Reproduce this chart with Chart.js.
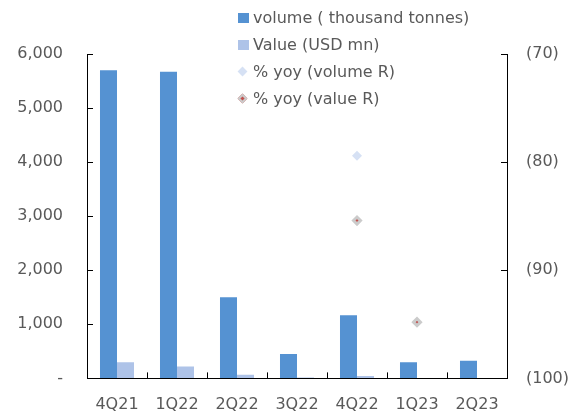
<!DOCTYPE html>
<html>
<head>
<meta charset="utf-8">
<script src="https://cdn.jsdelivr.net/npm/chart.js@4"></script>
<style>
    body { margin: 0; background: #fff; }
    #wrap { position: relative; width: 578px; height: 418px; }
    #legend {
        position: absolute; left: 238px; top: 8px;
        font: 16px "DejaVu Sans", Verdana, sans-serif; color: #595959;
    }
    .item { position: relative; height: 27px; line-height: 20px; padding-left: 15px; white-space: nowrap; }
    .box { position: absolute; left: 0; top: 5px; width: 11px; height: 10px; }
    .dia { position: absolute; transform: rotate(45deg); }
</style>
</head>
<body>
<div id="wrap">
    <canvas id="chart" width="578" height="418"></canvas>
    <div id="legend"></div>
</div>
<script>
// quarterly volume / value with % yoy on the right axis
const categories = ["4Q21", "1Q22", "2Q22", "3Q22", "4Q22", "1Q23", "2Q23"];
const volume = [5700, 5670, 1500, 450, 1170, 300, 325];          // thousand tonnes
const valueUsd = [300, 222, 66, 18, 45, 8, null];                 // USD mn
const yoyVolume = [null, null, null, null, -79.4, null, null];    // %
const yoyValue = [null, null, null, null, -85.4, -94.8, null];    // %

const leftTicks = [0, 1000, 2000, 3000, 4000, 5000, 6000];
const rightTicks = [-100, -90, -80, -70];

const seriesNames = ["volume ( thousand tonnes)", "Value (USD mn)", "% yoy (volume R)", "% yoy (value R)"];

const COL_VOL = "#5592d2";
const COL_VAL = "#aec3e8";
const COL_YOY_VOL = "#d6e1f4";
const COL_YOY_VAL = "#c0504d";
const COL_YOY_VAL_EDGE = "#cbcbcb";
const TEXT = "#595959";
const FONT = { family: "'DejaVu Sans', Verdana, sans-serif", size: 16 };

function fmtThousands(v) {
    if (v === 0) return "-";
    return v.toLocaleString("en-US");
}

function setTicks(list) {
    return function (scale) { scale.ticks = list.map(v => ({ value: v })); };
}

new Chart(document.getElementById("chart"), {
    type: "bar",
    data: {
        labels: categories,
        datasets: [
            { label: seriesNames[2], type: "line", data: yoyVolume, yAxisID: "y1", showLine: false,
              pointStyle: "rectRot", pointRadius: 5, pointBackgroundColor: COL_YOY_VOL,
              pointBorderWidth: 0, order: 0 },
            { label: seriesNames[3], type: "line", data: yoyValue, yAxisID: "y1", showLine: false,
              pointStyle: "rectRot", pointRadius: 3.5, pointBackgroundColor: COL_YOY_VAL,
              pointBorderColor: COL_YOY_VAL_EDGE, pointBorderWidth: 3, order: 0 },
            { label: seriesNames[0], data: volume, backgroundColor: COL_VOL, yAxisID: "y", order: 1 },
            { label: seriesNames[1], data: valueUsd, backgroundColor: COL_VAL, yAxisID: "y", order: 1 }
        ]
    },
    options: {
        responsive: false,
        animation: false,
        categoryPercentage: 0.567,
        barPercentage: 1,
        layout: { padding: { top: 54, left: 0, right: 0, bottom: 0 } },
        plugins: { legend: { display: false }, tooltip: { enabled: false } },
        scales: {
            x: {
                grid: { drawOnChartArea: false, offset: true, color: "#000", tickLength: -6 },
                border: { color: "#000", width: 1 },
                ticks: { color: TEXT, font: FONT, padding: 23, maxRotation: 0 },
                afterFit: s => { s.height = 39; }
            },
            y: {
                position: "left", min: 0, max: 6000,
                afterBuildTicks: setTicks(leftTicks),
                grid: { drawOnChartArea: false, color: "#000", tickLength: -6 },
                border: { color: "#000", width: 1 },
                ticks: { color: TEXT, font: FONT, padding: 30, callback: v => fmtThousands(v) },
                afterFit: s => { s.width = 87; }
            },
            y1: {
                position: "right", min: -100, max: -70,
                afterBuildTicks: setTicks(rightTicks),
                grid: { drawOnChartArea: false, color: "#000", tickLength: -6 },
                border: { color: "#000", width: 1 },
                ticks: { color: TEXT, font: FONT, padding: 25, callback: v => "(" + Math.abs(v) + ")" },
                afterFit: s => { s.width = 71; }
            }
        }
    }
});

// legend: one entry per line, top right
const legend = document.getElementById("legend");
const markers = [
    '<span class="box" style="background:' + COL_VOL + '"></span>',
    '<span class="box" style="background:' + COL_VAL + '"></span>',
    '<span class="dia" style="left:1px;top:6px;width:7px;height:7px;background:' + COL_YOY_VOL + '"></span>',
    '<span class="dia" style="left:1px;top:6px;width:3px;height:3px;background:' + COL_YOY_VAL +
        ';border:2px solid ' + COL_YOY_VAL_EDGE + '"></span>'
];
seriesNames.forEach(function (name, i) {
    const div = document.createElement("div");
    div.className = "item";
    div.innerHTML = markers[i];
    div.appendChild(document.createTextNode(name));
    legend.appendChild(div);
});
</script>
</body>
</html>
